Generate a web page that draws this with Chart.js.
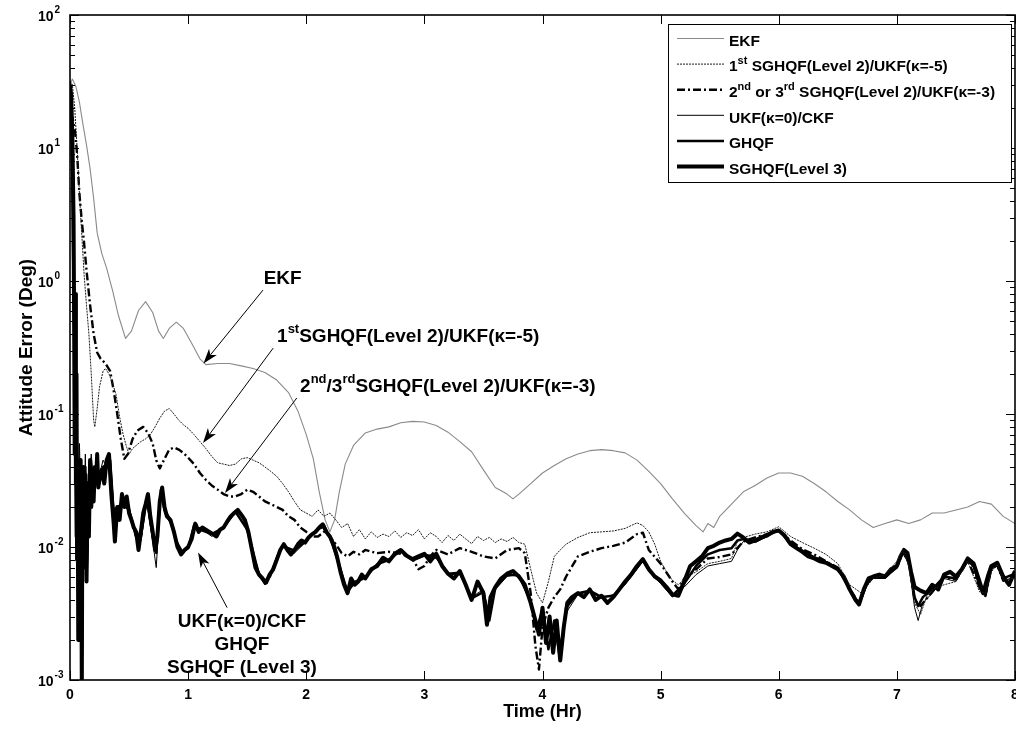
<!DOCTYPE html>
<html>
<head>
<meta charset="utf-8">
<script src="https://cdn.jsdelivr.net/npm/chart.js@4.4.1/dist/chart.umd.min.js"></script>
<style>
  html, body { margin: 0; padding: 0; background: #fff; }
  #wrap { width: 1016px; height: 731px; }
</style>
</head>
<body>
<div id="wrap"><canvas id="c"></canvas></div>
<script>
// Attitude error (deg) vs time (hr)
const ekfTime = [0, 0.02, 0.05, 0.08, 0.11, 0.14, 0.17, 0.2, 0.23, 0.27,
  0.31, 0.36, 0.41, 0.47, 0.52, 0.58, 0.64, 0.70, 0.75, 0.79,
  0.84, 0.9, 0.96, 1.03, 1.1, 1.15, 1.25, 1.35, 1.45, 1.55,
  1.65, 1.75, 1.85, 1.93, 2.0, 2.06, 2.11, 2.16, 2.2, 2.24,
  2.28, 2.33, 2.4, 2.5, 2.6, 2.7, 2.8, 2.9, 3.0, 3.1,
  3.2, 3.3, 3.4, 3.5, 3.6, 3.7, 3.75, 3.8, 3.9, 4.0,
  4.1, 4.2, 4.3, 4.4, 4.5, 4.6, 4.7, 4.8, 4.9, 5.0,
  5.1, 5.2, 5.3, 5.36, 5.4, 5.45, 5.5, 5.6, 5.7, 5.8,
  5.9, 6.0, 6.1, 6.2, 6.3, 6.4, 6.5, 6.6, 6.7, 6.8,
  6.9, 7.0, 7.1, 7.2, 7.3, 7.4, 7.5, 7.6, 7.7, 7.8,
  7.9, 8.0];
const ekfErr = [30, 33, 29, 22, 15, 10.5, 7.0, 4.2, 2.3, 1.6,
  1.25, 0.85, 0.55, 0.37, 0.42, 0.6, 0.70, 0.58, 0.42, 0.37,
  0.44, 0.49, 0.44, 0.34, 0.26, 0.235, 0.24, 0.24, 0.23, 0.22,
  0.205, 0.18, 0.145, 0.105, 0.07, 0.046, 0.026, 0.016, 0.013, 0.016,
  0.026, 0.042, 0.058, 0.072, 0.077, 0.080, 0.086, 0.088, 0.087, 0.082,
  0.073, 0.062, 0.052, 0.038, 0.028, 0.025, 0.023, 0.025, 0.03, 0.036,
  0.041, 0.046, 0.05, 0.053, 0.054, 0.053, 0.051, 0.045, 0.037, 0.03,
  0.023, 0.018, 0.0145, 0.013, 0.015, 0.014, 0.017, 0.021, 0.026, 0.029,
  0.033, 0.036, 0.036, 0.034, 0.03, 0.026, 0.022, 0.019, 0.016, 0.014,
  0.015, 0.016, 0.015, 0.016, 0.018, 0.018, 0.019, 0.02, 0.022, 0.021,
  0.017, 0.015];

// 1st SGHQF(Level 2)/UKF(k=-5)
const sg1Time = [0, 0.02, 0.04, 0.06, 0.08, 0.1, 0.12, 0.14, 0.16, 0.18,
  0.2, 0.21, 0.23, 0.25, 0.28, 0.3, 0.33, 0.36, 0.39, 0.42,
  0.45, 0.48, 0.5, 0.53, 0.56, 0.6, 0.64, 0.68, 0.72, 0.76,
  0.8, 0.84, 0.88, 0.92, 0.96, 1.0, 1.05, 1.1, 1.15, 1.2,
  1.25, 1.3, 1.35, 1.4, 1.45, 1.5, 1.55, 1.6, 1.65, 1.7,
  1.75, 1.8, 1.85, 1.9, 1.95, 2.0, 2.05, 2.1, 2.15, 2.2,
  2.25, 2.3, 2.35, 2.4, 2.45, 2.5, 2.55, 2.6, 2.65, 2.7,
  2.75, 2.8, 2.85, 2.9, 2.95, 3.0, 3.05, 3.1, 3.15, 3.2,
  3.25, 3.3, 3.35, 3.4, 3.45, 3.5, 3.55, 3.6, 3.65, 3.7,
  3.75, 3.8, 3.85, 3.9, 3.95, 4.0, 4.05, 4.1, 4.15, 4.2,
  4.3, 4.4, 4.5, 4.6, 4.7, 4.8, 4.85, 4.9, 4.95, 5.0,
  5.05, 5.1, 5.15, 5.2, 5.3, 5.4, 5.5, 5.6, 5.65, 5.7,
  5.8, 5.9, 6.0, 6.1, 6.2, 6.3, 6.4, 6.5, 6.6, 6.7,
  6.8, 6.9, 7.0, 7.05, 7.1, 7.15, 7.2, 7.25, 7.3, 7.4,
  7.5, 7.6, 7.7, 7.75, 7.8, 7.85, 7.9, 8.0];
const sg1Err = [32, 30, 20, 10, 4.5, 2.2, 1.1, 0.65, 0.4, 0.2,
  0.09, 0.08, 0.11, 0.16, 0.21, 0.22, 0.2, 0.17, 0.14, 0.095,
  0.07, 0.056, 0.05, 0.055, 0.058, 0.062, 0.065, 0.07, 0.08, 0.093,
  0.105, 0.11, 0.1, 0.09, 0.083, 0.078, 0.07, 0.062, 0.055, 0.048,
  0.043, 0.042, 0.041, 0.042, 0.046, 0.047, 0.045, 0.043, 0.04, 0.037,
  0.034, 0.03, 0.026, 0.022, 0.019, 0.018, 0.017, 0.019, 0.017, 0.018,
  0.016, 0.014, 0.015, 0.012, 0.0135, 0.0115, 0.013, 0.0118, 0.0125, 0.012,
  0.0132, 0.0118, 0.0128, 0.0122, 0.0135, 0.0115, 0.0128, 0.012, 0.0108, 0.0122,
  0.0112, 0.0125, 0.0115, 0.0106, 0.012, 0.0112, 0.0118, 0.0108, 0.0115, 0.011,
  0.0118, 0.0108, 0.0105, 0.0068, 0.0045, 0.0038, 0.0055, 0.0085, 0.0095, 0.0105,
  0.0118, 0.0128, 0.013, 0.0132, 0.0138, 0.0152, 0.0145, 0.013, 0.0105, 0.0078,
  0.0065, 0.0056, 0.0052, 0.0058, 0.0065, 0.0075, 0.0078, 0.0082, 0.011, 0.0118,
  0.0125, 0.013, 0.0142, 0.012, 0.0108, 0.0098, 0.0088, 0.0075, 0.0052, 0.0045,
  0.0058, 0.0062, 0.0078, 0.0095, 0.0072, 0.0038, 0.0031, 0.0042, 0.0048, 0.0052,
  0.0055, 0.0078, 0.0046, 0.0045, 0.0065, 0.0074, 0.0057, 0.0058];

// 2nd or 3rd SGHQF(Level 2)/UKF(k=-3)
const sg2Time = [0, 0.02, 0.04, 0.06, 0.08, 0.1, 0.12, 0.14, 0.17, 0.2,
  0.23, 0.26, 0.3, 0.34, 0.37, 0.4, 0.43, 0.46, 0.49, 0.53,
  0.57, 0.62, 0.66, 0.7, 0.73, 0.76, 0.8, 0.84, 0.88, 0.92,
  0.96, 1.0, 1.05, 1.1, 1.15, 1.2, 1.25, 1.3, 1.35, 1.4,
  1.45, 1.5, 1.55, 1.6, 1.65, 1.7, 1.75, 1.8, 1.85, 1.9,
  1.95, 2.0, 2.05, 2.1, 2.15, 2.2, 2.25, 2.3, 2.35, 2.4,
  2.45, 2.5, 2.6, 2.7, 2.8, 2.9, 2.95, 3.0, 3.05, 3.1,
  3.2, 3.3, 3.4, 3.5, 3.6, 3.7, 3.8, 3.85, 3.9, 3.94,
  3.97, 4.0, 4.05, 4.1, 4.15, 4.2, 4.3, 4.4, 4.5, 4.6,
  4.7, 4.8, 4.85, 4.9, 5.0, 5.1, 5.15, 5.2, 5.3, 5.4,
  5.5, 5.6, 5.7, 5.8, 5.9, 6.0, 6.1, 6.2, 6.3, 6.4,
  6.5, 6.6, 6.68, 6.75, 6.8, 6.9, 7.0, 7.05, 7.1, 7.15,
  7.2, 7.3, 7.4, 7.5, 7.6, 7.7, 7.75, 7.8, 7.85, 7.9,
  8.0];
const sg2Err = [18, 17, 14, 9, 4.5, 2.8, 1.9, 1.2, 0.66, 0.4,
  0.29, 0.26, 0.24, 0.21, 0.15, 0.1, 0.065, 0.046, 0.05, 0.065,
  0.075, 0.08, 0.072, 0.06, 0.045, 0.039, 0.046, 0.054, 0.056, 0.054,
  0.051, 0.047, 0.042, 0.036, 0.032, 0.029, 0.027, 0.025, 0.024, 0.024,
  0.025, 0.027, 0.026, 0.024, 0.022, 0.021, 0.02, 0.019, 0.017, 0.016,
  0.014, 0.013, 0.012, 0.012, 0.013, 0.012, 0.0105, 0.009, 0.0085, 0.0092,
  0.0088, 0.0095, 0.009, 0.0092, 0.0089, 0.0082, 0.0068, 0.0072, 0.0085, 0.0095,
  0.0088, 0.0098, 0.0092, 0.0085, 0.0082, 0.0095, 0.0098, 0.009, 0.0045, 0.0018,
  0.0012, 0.0025, 0.0035, 0.0042, 0.0048, 0.006, 0.0085, 0.0092, 0.0098, 0.0102,
  0.0108, 0.0125, 0.0128, 0.0095, 0.0075, 0.0055, 0.0048, 0.0058, 0.0068, 0.0082,
  0.0084, 0.0088, 0.011, 0.0118, 0.0125, 0.0133, 0.0112, 0.0096, 0.0088, 0.0078,
  0.007, 0.0048, 0.0038, 0.0054, 0.0059, 0.006, 0.007, 0.0091, 0.0078, 0.004,
  0.0036, 0.0046, 0.0059, 0.0057, 0.0079, 0.005, 0.0043, 0.0069, 0.0073, 0.0056,
  0.0062];

// UKF(k=0)/CKF and GHQF share one time base
const coarseTime = [0, 0.01, 0.02, 0.03, 0.04, 0.05, 0.06, 0.07, 0.08, 0.09,
  0.1, 0.11, 0.12, 0.13, 0.14, 0.16, 0.18, 0.2, 0.22, 0.25,
  0.28, 0.31, 0.34, 0.37, 0.4, 0.45, 0.5, 0.55, 0.6, 0.65,
  0.7, 0.73, 0.77, 0.8, 0.85, 0.9, 0.95, 1.0, 1.05, 1.1,
  1.2, 1.3, 1.4, 1.5, 1.55, 1.6, 1.65, 1.7, 1.75, 1.8,
  1.9, 2.0, 2.1, 2.15, 2.2, 2.25, 2.3, 2.35, 2.4, 2.5,
  2.6, 2.7, 2.8, 2.9, 3.0, 3.1, 3.2, 3.3, 3.4, 3.5,
  3.55, 3.6, 3.7, 3.8, 3.9, 3.95, 4.0, 4.05, 4.1, 4.15,
  4.2, 4.3, 4.4, 4.5, 4.6, 4.7, 4.8, 4.85, 4.9, 5.0,
  5.1, 5.2, 5.3, 5.4, 5.5, 5.6, 5.65, 5.7, 5.8, 5.9,
  6.0, 6.1, 6.2, 6.3, 6.4, 6.5, 6.6, 6.68, 6.75, 6.8,
  6.9, 7.0, 7.05, 7.1, 7.15, 7.18, 7.22, 7.3, 7.4, 7.5,
  7.6, 7.65, 7.7, 7.75, 7.8, 7.85, 7.9, 8.0];
const ukfErr = [32, 20, 8, 1.5, 0.12, 0.03, 0.05, 0.015, 0.06, 0.025,
  0.003, 0.035, 0.02, 0.05, 0.009, 0.03, 0.05, 0.03, 0.045, 0.035,
  0.045, 0.04, 0.048, 0.02, 0.018, 0.022, 0.02, 0.012, 0.011, 0.022,
  0.011, 0.007, 0.026, 0.018, 0.015, 0.011, 0.009, 0.01, 0.014, 0.014,
  0.012, 0.014, 0.018, 0.014, 0.009, 0.0065, 0.0052, 0.006, 0.0085, 0.0105,
  0.009, 0.011, 0.0135, 0.014, 0.0115, 0.009, 0.006, 0.0048, 0.0055, 0.006,
  0.0075, 0.0082, 0.0092, 0.0078, 0.0085, 0.0082, 0.0062, 0.0062, 0.0042, 0.0048,
  0.003, 0.0048, 0.006, 0.0062, 0.004, 0.0025, 0.0032, 0.0018, 0.0026, 0.0015,
  0.0032, 0.0044, 0.0046, 0.0041, 0.0044, 0.0052, 0.0068, 0.0078, 0.0066, 0.0053,
  0.0042, 0.005, 0.0062, 0.0072, 0.0075, 0.0078, 0.0095, 0.011, 0.0108, 0.012,
  0.0135, 0.0108, 0.0095, 0.0085, 0.0078, 0.007, 0.0047, 0.0036, 0.0052, 0.0058,
  0.0058, 0.007, 0.009, 0.0075, 0.0035, 0.0028, 0.0038, 0.0045, 0.0058, 0.0055,
  0.0078, 0.007, 0.0048, 0.0042, 0.0068, 0.0072, 0.0055, 0.006];
const ghqfErr = [30, 18, 6, 0.8, 0.2, 0.012, 0.06, 0.004, 0.04, 0.012,
  0.0015, 0.02, 0.008, 0.04, 0.006, 0.02, 0.04, 0.025, 0.04, 0.03,
  0.04, 0.042, 0.045, 0.018, 0.02, 0.021, 0.019, 0.013, 0.012, 0.023,
  0.012, 0.009, 0.027, 0.019, 0.016, 0.011, 0.0092, 0.0098, 0.0145, 0.0135,
  0.0125, 0.014, 0.0185, 0.0135, 0.0092, 0.0062, 0.0053, 0.0063, 0.0082, 0.0102,
  0.0094, 0.0112, 0.0138, 0.0145, 0.0118, 0.0088, 0.0063, 0.0046, 0.0053, 0.0059,
  0.0074, 0.008, 0.0094, 0.008, 0.0087, 0.0085, 0.0063, 0.0064, 0.0041, 0.0046,
  0.0028, 0.0049, 0.0062, 0.0061, 0.0039, 0.0024, 0.0034, 0.0017, 0.0028, 0.0014,
  0.0035, 0.0045, 0.0047, 0.0042, 0.0043, 0.0054, 0.007, 0.008, 0.0067, 0.0055,
  0.0043, 0.0053, 0.0072, 0.0088, 0.0095, 0.0098, 0.0112, 0.0115, 0.011, 0.0121,
  0.0134, 0.0106, 0.0093, 0.0083, 0.0077, 0.0069, 0.0048, 0.0037, 0.0055, 0.0059,
  0.0059, 0.0071, 0.0092, 0.008, 0.0042, 0.0036, 0.0042, 0.0048, 0.006, 0.0058,
  0.008, 0.0072, 0.0052, 0.0044, 0.007, 0.0074, 0.0058, 0.0063];

// SGHQF(Level 3)
const sg3Time = [0, 0.01, 0.02, 0.03, 0.035, 0.04, 0.045, 0.05, 0.055, 0.06,
  0.065, 0.07, 0.075, 0.08, 0.085, 0.09, 0.095, 0.1, 0.105, 0.11,
  0.115, 0.12, 0.13, 0.14, 0.15, 0.16, 0.17, 0.18, 0.19, 0.2,
  0.21, 0.22, 0.23, 0.24, 0.25, 0.27, 0.29, 0.31, 0.33, 0.35,
  0.37, 0.38, 0.4, 0.42, 0.44, 0.46, 0.48, 0.5, 0.52, 0.54,
  0.56, 0.58, 0.6, 0.62, 0.64, 0.66, 0.68, 0.7, 0.72, 0.74,
  0.76, 0.78, 0.8, 0.82, 0.85, 0.88, 0.91, 0.94, 0.97, 1.0,
  1.03, 1.06, 1.09, 1.12, 1.15, 1.18, 1.21, 1.24, 1.27, 1.3,
  1.33, 1.36, 1.39, 1.42, 1.45, 1.48, 1.51, 1.54, 1.57, 1.6,
  1.63, 1.66, 1.69, 1.72, 1.75, 1.78, 1.81, 1.84, 1.87, 1.9,
  1.93, 1.96, 1.99, 2.02, 2.05, 2.08, 2.11, 2.14, 2.17, 2.2,
  2.23, 2.26, 2.29, 2.32, 2.35, 2.38, 2.41, 2.44, 2.47, 2.5,
  2.55, 2.6, 2.65, 2.7, 2.75, 2.8, 2.85, 2.9, 2.95, 3.0,
  3.05, 3.1, 3.15, 3.2, 3.25, 3.3, 3.35, 3.4, 3.45, 3.5,
  3.53, 3.56, 3.6, 3.65, 3.7, 3.75, 3.8, 3.85, 3.9, 3.94,
  3.97, 4.0, 4.03, 4.06, 4.09, 4.12, 4.15, 4.18, 4.21, 4.25,
  4.3, 4.35, 4.4, 4.45, 4.5, 4.55, 4.6, 4.65, 4.7, 4.75,
  4.8, 4.85, 4.9, 4.95, 5.0, 5.05, 5.1, 5.15, 5.2, 5.25,
  5.3, 5.35, 5.4, 5.45, 5.5, 5.55, 5.6, 5.65, 5.7, 5.75,
  5.8, 5.85, 5.9, 5.95, 6.0, 6.05, 6.1, 6.15, 6.2, 6.25,
  6.3, 6.35, 6.4, 6.45, 6.5, 6.55, 6.6, 6.65, 6.68, 6.72,
  6.76, 6.8, 6.85, 6.9, 6.95, 7.0, 7.03, 7.06, 7.09, 7.12,
  7.15, 7.2, 7.25, 7.3, 7.35, 7.4, 7.45, 7.5, 7.55, 7.6,
  7.65, 7.7, 7.73, 7.77, 7.8, 7.85, 7.9, 7.95, 8.0];
const sg3Err = [30, 25, 12, 3, 0.5, 0.05, 0.8, 0.03, 0.2, 0.008,
  0.04, 0.002, 0.03, 0.01, 0.045, 0.004, 0.02, 0.0008, 0.03, 0.007,
  0.04, 0.012, 0.035, 0.0055, 0.03, 0.012, 0.045, 0.02, 0.035, 0.022,
  0.04, 0.03, 0.05, 0.028, 0.033, 0.038, 0.03, 0.045, 0.05, 0.025,
  0.015, 0.011, 0.02, 0.016, 0.025, 0.02, 0.024, 0.018, 0.016, 0.014,
  0.013, 0.0095, 0.013, 0.018, 0.021, 0.025, 0.017, 0.013, 0.0095, 0.012,
  0.022, 0.028, 0.02, 0.017, 0.016, 0.013, 0.01, 0.0088, 0.0095, 0.01,
  0.0115, 0.015, 0.013, 0.014, 0.0135, 0.013, 0.0125, 0.012, 0.0135, 0.014,
  0.0155, 0.017, 0.018, 0.019, 0.0175, 0.016, 0.013, 0.0095, 0.007, 0.0062,
  0.0058, 0.0054, 0.0062, 0.0068, 0.008, 0.0095, 0.0105, 0.0095, 0.0088, 0.0095,
  0.0105, 0.0112, 0.0108, 0.0118, 0.0125, 0.013, 0.014, 0.0148, 0.013, 0.012,
  0.0105, 0.0085, 0.0065, 0.0052, 0.0045, 0.0058, 0.0052, 0.0055, 0.0062, 0.0058,
  0.0068, 0.0072, 0.0083, 0.0078, 0.0089, 0.0095, 0.0086, 0.0081, 0.0085, 0.0089,
  0.0078, 0.0089, 0.0072, 0.0063, 0.0058, 0.0066, 0.0052, 0.004, 0.0055, 0.0045,
  0.0026, 0.0042, 0.005, 0.0058, 0.0063, 0.0066, 0.006, 0.0052, 0.0038, 0.0028,
  0.0022, 0.0035, 0.0019, 0.003, 0.0016, 0.0028, 0.0014, 0.0025, 0.0038, 0.0042,
  0.0045, 0.0042, 0.0048, 0.004, 0.0043, 0.0038, 0.0042, 0.0048, 0.0055, 0.0062,
  0.0072, 0.0081, 0.0068, 0.006, 0.0056, 0.005, 0.0044, 0.0043, 0.0055, 0.0072,
  0.0078, 0.0085, 0.0098, 0.0102, 0.0108, 0.0112, 0.0115, 0.0126, 0.0118, 0.0108,
  0.0112, 0.0118, 0.0122, 0.013, 0.0133, 0.0122, 0.0105, 0.0098, 0.0092, 0.0085,
  0.0082, 0.0078, 0.0076, 0.0072, 0.0068, 0.006, 0.0048, 0.004, 0.0037, 0.0048,
  0.0058, 0.006, 0.0062, 0.006, 0.0068, 0.0072, 0.0085, 0.0095, 0.009, 0.0065,
  0.005, 0.0047, 0.0045, 0.0052, 0.0048, 0.0062, 0.0065, 0.006, 0.0068, 0.0082,
  0.0075, 0.0055, 0.0045, 0.006, 0.0072, 0.0076, 0.006, 0.0052, 0.0066];

const xTicks = [0, 1, 2, 3, 4, 5, 6, 7, 8];
const yExponents = [-3, -2, -1, 0, 1, 2];

// legend entries, [text, superscript?]
const legendText = [
  [['EKF']],
  [['1'], ['st', 1], [' SGHQF(Level 2)/UKF(κ=-5)']],
  [['2'], ['nd', 1], [' or 3'], ['rd', 1], [' SGHQF(Level 2)/UKF(κ=-3)']],
  [['UKF(κ=0)/CKF']],
  [['GHQF']],
  [['SGHQF(Level 3)']]
];

// callouts in the plot: text anchor (time, error) and arrow (from -> to)
const noteText = [
  [['EKF']],
  [['1'], ['st', 1], ['SGHQF(Level 2)/UKF(κ=-5)']],
  [['2'], ['nd', 1], ['/3'], ['rd', 1], ['SGHQF(Level 2)/UKF(κ=-3)']],
  [['UKF(κ=0)/CKF']],
  [['GHQF']],
  [['SGHQF (Level 3)']]
];
const noteAt = [[1.80, 1.035, 'center'], [1.753, 0.379, 'left'], [1.948, 0.16, 'left'],
  [1.456, 0.00273, 'center'], [1.456, 0.00183, 'center'], [1.456, 0.00123, 'center']];
const arrowFrom = [[1.634, 0.855], [1.72, 0.313], [1.92, 0.132], [1.33, 0.0035]];
const arrowTo = [[1.13, 0.24], [1.126, 0.0605], [1.312, 0.0255], [1.084, 0.0091]];

const FONT = '"Liberation Sans", Arial, Helvetica, sans-serif';
const pts = (ts, vs) => vs.map((v, i) => ({ x: ts[i], y: v }));

const styles = [
  { color: '#8a8a8a', width: 1.1, dash: [] },
  { color: '#1a1a1a', width: 1, dash: [2, 1] },
  { color: '#000', width: 2.4, dash: [8, 3, 2, 3] },
  { color: '#000', width: 1, dash: [] },
  { color: '#000', width: 2.5, dash: [] },
  { color: '#000', width: 4, dash: [] }
];

function drawRich(ctx, segs, x, y, size, supSize, align) {
  const widths = segs.map(([s, sup]) => {
    ctx.font = `bold ${sup ? supSize : size}px ${FONT}`;
    return ctx.measureText(s).width;
  });
  const total = widths.reduce((a, b) => a + b, 0);
  let cx = align === 'center' ? x - total / 2 : align === 'right' ? x - total : x;
  ctx.textAlign = 'left';
  ctx.textBaseline = 'middle';
  segs.forEach(([s, sup], i) => {
    ctx.font = `bold ${sup ? supSize : size}px ${FONT}`;
    ctx.fillText(s, cx, sup ? y - size * 0.4 : y);
    cx += widths[i];
  });
}

function drawArrow(ctx, x0, y0, x1, y1) {
  const ang = Math.atan2(y1 - y0, x1 - x0);
  const L = 15, W = 5, N = 4;
  ctx.beginPath();
  ctx.moveTo(x0, y0);
  ctx.lineTo(x1 - Math.cos(ang) * (L - N), y1 - Math.sin(ang) * (L - N));
  ctx.stroke();
  ctx.save();
  ctx.translate(x1, y1);
  ctx.rotate(ang);
  ctx.beginPath();
  ctx.moveTo(0, 0);
  ctx.lineTo(-L, -W);
  ctx.lineTo(-L + N, 0);
  ctx.lineTo(-L, W);
  ctx.closePath();
  ctx.fill();
  ctx.restore();
}

const frame = {
  id: 'frame',
  afterDraw(chart) {
    const { ctx, chartArea: a, scales: { x, y } } = chart;
    ctx.save();
    ctx.strokeStyle = '#000';
    ctx.fillStyle = '#000';
    ctx.lineWidth = 1;
    const seg = (x0, y0, x1, y1) => { ctx.beginPath(); ctx.moveTo(x0, y0); ctx.lineTo(x1, y1); ctx.stroke(); };

    // x ticks (bottom and top, inward)
    xTicks.forEach(v => {
      const px = Math.round(x.getPixelForValue(v)) + 0.5;
      seg(px, a.bottom, px, a.bottom - 9);
      seg(px, a.top, px, a.top + 9);
    });
    // y ticks, major and minor (left and right, inward)
    yExponents.forEach(e => {
      for (let k = 1; k <= 9; k++) {
        const v = k * Math.pow(10, e);
        if (v > 100.0001) break;
        const py = Math.round(y.getPixelForValue(v)) + 0.5;
        const len = k === 1 ? 9 : 5;
        seg(a.left, py, a.left + len, py);
        seg(a.right, py, a.right - len, py);
      }
    });
    ctx.lineWidth = 1.6;
    ctx.strokeRect(a.left, a.top, a.right - a.left, a.bottom - a.top);

    // tick labels
    xTicks.forEach(v => {
      drawRich(ctx, [[String(v)]], x.getPixelForValue(v), a.bottom + 15, 14, 9, 'center');
    });
    yExponents.forEach(e => {
      const py = y.getPixelForValue(Math.pow(10, e));
      ctx.font = `bold 14px ${FONT}`;
      ctx.textAlign = 'left';
      ctx.textBaseline = 'middle';
      ctx.fillText('10', 38, py + 2);
      const w = ctx.measureText('10').width;
      ctx.font = `bold 10px ${FONT}`;
      ctx.fillText(String(e), 38 + w + 1, py - 5);
    });

    // axis titles
    ctx.font = `bold 18px ${FONT}`;
    ctx.textAlign = 'center';
    ctx.textBaseline = 'middle';
    ctx.fillText('Time (Hr)', (a.left + a.right) / 2, 712);
    ctx.save();
    ctx.translate(27, (a.top + a.bottom) / 2);
    ctx.rotate(-Math.PI / 2);
    ctx.font = `bold 19px ${FONT}`;
    ctx.fillText('Attitude Error (Deg)', 0, 0);
    ctx.restore();

    // callouts
    ctx.lineWidth = 1;
    arrowFrom.forEach((f, i) => {
      const t = arrowTo[i];
      drawArrow(ctx, x.getPixelForValue(f[0]), y.getPixelForValue(f[1]),
        x.getPixelForValue(t[0]), y.getPixelForValue(t[1]));
    });
    noteText.forEach((segs, i) => {
      const [tv, ev, align] = noteAt[i];
      drawRich(ctx, segs, x.getPixelForValue(tv), y.getPixelForValue(ev), 19, 13, align);
    });

    // legend box
    const L = { left: 668, top: 24, right: 1011, bottom: 182 };
    ctx.fillStyle = '#fff';
    ctx.fillRect(L.left, L.top, L.right - L.left, L.bottom - L.top);
    ctx.strokeStyle = '#000';
    ctx.lineWidth = 1;
    ctx.strokeRect(L.left + 0.5, L.top + 0.5, L.right - L.left, L.bottom - L.top);
    legendText.forEach((segs, i) => {
      const ly = 38.5 + i * 25.6;
      const s = styles[i];
      ctx.strokeStyle = s.color;
      ctx.lineWidth = s.width;
      ctx.setLineDash(s.dash);
      seg(677, ly, 724, ly);
      ctx.setLineDash([]);
      ctx.fillStyle = '#000';
      drawRich(ctx, segs, 729, ly + 3, 15.5, 11, 'left');
    });
    ctx.restore();
  }
};

const series = [
  ['EKF', pts(ekfTime, ekfErr), 6],
  ['1st SGHQF(Level 2)/UKF(κ=-5)', pts(sg1Time, sg1Err), 1],
  ['2nd or 3rd SGHQF(Level 2)/UKF(κ=-3)', pts(sg2Time, sg2Err), 2],
  ['UKF(κ=0)/CKF', pts(coarseTime, ukfErr), 3],
  ['GHQF', pts(coarseTime, ghqfErr), 4],
  ['SGHQF(Level 3)', pts(sg3Time, sg3Err), 5]
];

new Chart(document.getElementById('c'), {
  type: 'line',
  data: {
    datasets: series.map(([label, data, order], i) => ({
      label,
      data,
      order,
      borderColor: styles[i].color,
      borderWidth: styles[i].width,
      borderDash: styles[i].dash,
      pointRadius: 0,
      tension: 0,
      fill: false,
      borderJoinStyle: 'round'
    }))
  },
  options: {
    responsive: true,
    maintainAspectRatio: false,
    animation: false,
    devicePixelRatio: 1,
    layout: { padding: { left: 70, right: 1, top: 15, bottom: 51 } },
    scales: {
      x: { type: 'linear', min: 0, max: 8, display: false },
      y: { type: 'logarithmic', min: 0.001, max: 100, display: false }
    },
    plugins: {
      legend: { display: false },
      tooltip: { enabled: false }
    }
  },
  plugins: [frame]
});
</script>
</body>
</html>
